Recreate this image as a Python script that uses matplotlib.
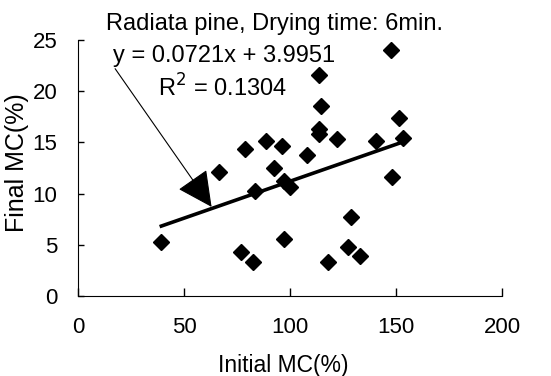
import numpy as np
import matplotlib.pyplot as plt

plt.rcParams['font.family'] = ['Liberation Sans', 'DejaVu Sans']

# Data
initial_mc = [39.3, 66.7, 76.7, 78.9, 82.5, 83.6, 88.8, 92.5, 96.1, 97.2, 97.3,
              100.1, 108.2, 113.7, 113.8, 113.8, 114.6, 117.9, 122.3, 127.5,
              128.6, 133.0, 140.6, 147.5, 148.0, 151.4, 153.3]
final_mc = [5.3, 12.1, 4.3, 14.4, 3.3, 10.3, 15.1, 12.5, 14.6, 11.2, 5.6,
            10.6, 13.8, 16.3, 15.8, 21.6, 18.6, 3.3, 15.3, 4.8,
            7.7, 3.9, 15.1, 24.0, 11.6, 17.4, 15.4]
slope = 0.0721
intercept = 3.9951
r2 = 0.1304
x_ticks = [0, 50, 100, 150, 200]
y_ticks = [0, 5, 10, 15, 20, 25]

fig = plt.figure(figsize=(5.51, 3.76), dpi=100)
ax = fig.add_axes([0.1416, 0.2128, 0.7695, 0.6808])

ax.plot(initial_mc, final_mc, 'D', color='black', markersize=8.5, zorder=3)

# trend line over the data range
x_fit = np.array([min(initial_mc), max(initial_mc)])
ax.plot(x_fit, slope * x_fit + intercept, color='black', lw=2.6, zorder=2)

ax.set_xlim(0, 200)
ax.set_ylim(0, 25)
ax.set_xticks(x_ticks)
ax.set_yticks(y_ticks)
ax.spines['top'].set_visible(False)
ax.spines['right'].set_visible(False)
ax.tick_params(direction='in', length=6, width=1, labelsize=16, pad=15)
ax.tick_params(axis='y', length=4)

fig.text(0.499, 0.92, 'Radiata pine, Drying time: 6min.', fontsize=17, ha='center', va='baseline')
fig.text(0.205, 0.834, 'y = %.4fx + %.4f' % (slope, intercept), fontsize=17, ha='left', va='baseline')
fig.text(0.287, 0.742, 'R$^2$ = %.4f' % r2, fontsize=17, ha='left', va='baseline')

ax.annotate('', xy=(63, 8.7), xytext=(17.5, 22.2),
            arrowprops=dict(arrowstyle='-|>,head_length=0.5,head_width=0.25',
                            mutation_scale=45, lw=0.8, color='black',
                            shrinkA=0, shrinkB=0))

fig.text(0.03, 0.568, 'Final MC(%)', fontsize=18, rotation=90, ha='center', va='center')
fig.text(0.514, 0.029, 'Initial MC(%)', fontsize=16.5, ha='center', va='center')

fig.savefig('out.png', dpi=100)
